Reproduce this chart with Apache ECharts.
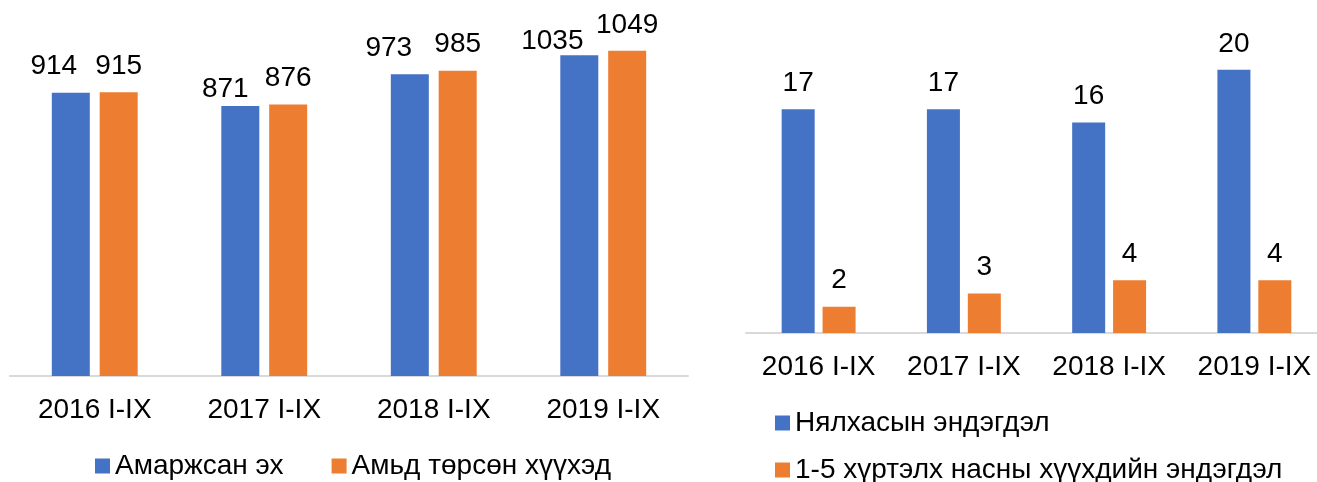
<!DOCTYPE html>
<html>
<head>
<meta charset="utf-8">
<script src="https://cdn.jsdelivr.net/npm/echarts@6/dist/echarts.min.js"></script>
<style>
    html, body { margin: 0; padding: 0; background: #fff; overflow: hidden; }
    /* the right chart runs off the edge of the original picture */
    #chart { width: 1330px; height: 482px; }
</style>
</head>
<body>
<div id="chart"></div>
<script>
// data
var years = ['2016 I-IX', '2017 I-IX', '2018 I-IX', '2019 I-IX']
var mothers = [914, 871, 973, 1035]     // Амаржсан эх
var liveBirths = [915, 876, 985, 1049]  // Амьд төрсөн хүүхэд
var infantDeaths = [17, 17, 16, 20]     // Нялхасын эндэгдэл
var childDeaths = [2, 3, 4, 4]          // 1-5 хүртэлх насны хүүхдийн эндэгдэл

var BLUE = '#4472C4'
var ORANGE = '#ED7D31'
var FONT = 'Liberation Sans, Arial, sans-serif'

// Excel nudged the blue labels on the left chart so they don't collide
var mothersLabelOffset = [[-17, 0], [-15, 9], [-21, 0], [-27, 12]]

var chart = echarts.init(document.getElementById('chart'))

function barSeries(name, data, color, idx) {
    return {
        name: name,
        type: 'bar',
        xAxisIndex: idx,
        yAxisIndex: idx,
        data: data,
        barWidth: idx === 0 ? 38 : 33,
        barGap: idx === 0 ? '26%' : '24%',
        itemStyle: { color: color },
        label: {
            show: true,
            position: 'top',
            distance: 12,
            color: '#000',
            fontSize: 28,
            fontFamily: FONT
        },
        animation: false
    }
}

var legendText = { fontSize: 28, lineHeight: 30, color: '#000', fontFamily: FONT }

function legend(names, left, top, gap) {
    return {
        data: names,
        left: left,
        top: top,
        itemWidth: 15,
        itemHeight: 15,
        itemGap: gap,
        icon: 'rect',
        textStyle: legendText
    }
}

var left = barSeries('Амаржсан эх', mothers.map(function (v, i) {
    return { value: v, label: { offset: mothersLabelOffset[i] } }
}), BLUE, 0)

chart.setOption({
    textStyle: { fontFamily: FONT },
    grid: [
        { left: 10, top: 4, width: 678, height: 372 },
        { left: 746, top: 4, width: 581, height: 329 }
    ],
    legend: [
        legend(['Амаржсан эх', 'Амьд төрсөн хүүхэд'], 90, 446, 48),
        legend(['Нялхасын эндэгдэл'], 770, 403, 10),
        legend(['1-5 хүртэлх насны хүүхдийн эндэгдэл'], 770, 450, 10)
    ],
    xAxis: [0, 1].map(function (i) {
        return {
            type: 'category',
            gridIndex: i,
            data: years,
            axisLine: { lineStyle: { color: '#D9D9D9', width: 2 } },
            axisTick: { show: false },
            axisLabel: {
                interval: 0,
                hideOverlap: false,
                color: '#000',
                fontSize: 28,
                margin: 20,
                fontFamily: FONT
            }
        }
    }),
    yAxis: [
        { type: 'value', gridIndex: 0, min: 0, max: 1200, show: false, splitLine: { show: false } },
        { type: 'value', gridIndex: 1, min: 0, max: 25, show: false, splitLine: { show: false } }
    ],
    series: [
        left,
        barSeries('Амьд төрсөн хүүхэд', liveBirths, ORANGE, 0),
        barSeries('Нялхасын эндэгдэл', infantDeaths, BLUE, 1),
        barSeries('1-5 хүртэлх насны хүүхдийн эндэгдэл', childDeaths, ORANGE, 1)
    ]
})
</script>
</body>
</html>
